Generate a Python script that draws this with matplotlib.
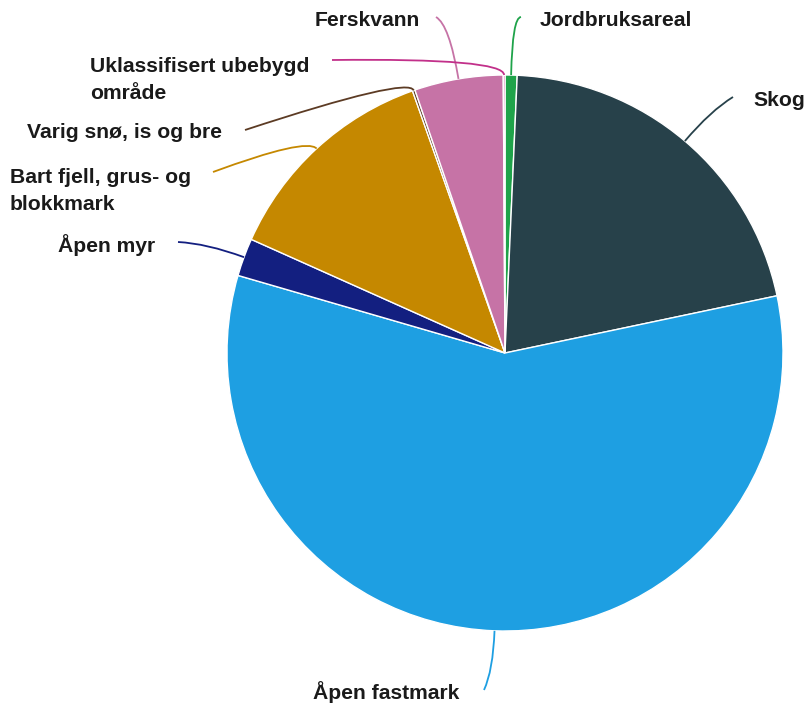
import numpy as np
import matplotlib.pyplot as plt
from matplotlib.path import Path
from matplotlib.patches import PathPatch

# Arealtyper (prosent av samlet areal), i rekkefolge med klokka fra toppen
categories = ['Jordbruksareal', 'Skog', 'Åpen fastmark', 'Åpen myr',
              'Bart fjell, grus- og\nblokkmark', 'Varig snø, is og bre',
              'Ferskvann', 'Uklassifisert ubebygd\nområde']
shares = [0.7, 21.0, 57.8, 2.2, 12.9, 0.15, 5.15, 0.1]
colors = ['#1fa34a', '#27414a', '#1e9fe2', '#131f80',
          '#c58800', '#5c3b24', '#c673a6', '#c2308a']

# Etikettplassering (piksler, y nedover) og lengde paa knekkpunkt
label_pos = [(540, 20), (753, 101), (459, 692), (155, 245),
             (10, 191), (222, 133), (420, 20), (90, 80)]
label_ha = ['left', 'left', 'right', 'right', 'left', 'right', 'right', 'left']
line_end = [(521, 17), (733, 97), (484, 690), (178, 242),
            (213, 172), (245, 130), (436, 17), (332, 60)]
knee_off = [58, 40, 40, 40, 15, 15, 55, 17]

W, H = 806, 705
cx, cy, r = 505, 352, 278

fig = plt.figure(figsize=(W / 100, H / 100), dpi=100)
ax = fig.add_axes([0, 0, 1, 1])

wedges, _ = ax.pie(shares, colors=colors, startangle=90, counterclock=False,
                   center=(cx, cy), radius=r,
                   wedgeprops=dict(edgecolor='white', linewidth=1))

for i, w in enumerate(wedges):
    mid = np.deg2rad((w.theta1 + w.theta2) / 2)
    p0 = (cx + r * np.cos(mid), cy + r * np.sin(mid))
    ro = r + knee_off[i]
    pc = (cx + ro * np.cos(mid), cy + ro * np.sin(mid))
    p2 = (line_end[i][0], H - line_end[i][1])
    path = Path([p0, pc, p2], [Path.MOVETO, Path.CURVE3, Path.CURVE3])
    ax.add_patch(PathPatch(path, fill=False, edgecolor=colors[i], lw=1.3))
    tx, ty = label_pos[i]
    ax.text(tx, H - ty, categories[i], ha=label_ha[i], va='center',
            multialignment='left', fontsize=15.2, fontweight='bold',
            family='Liberation Sans', color='#1a1a1a', linespacing=1.5)

ax.set_xlim(0, W)
ax.set_ylim(0, H)
ax.set_aspect('equal')
ax.axis('off')

fig.savefig('out.png', dpi=100)
